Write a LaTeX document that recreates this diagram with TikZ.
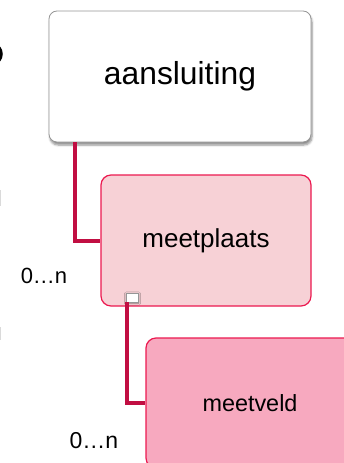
\documentclass[tikz,border=0pt]{standalone}
\usepackage{fontspec}
\setmainfont{Liberation Sans}
\usetikzlibrary{shadows.blur}
\definecolor{connred}{RGB}{193,14,66}
\definecolor{pinkedge}{RGB}{235,25,80}
\definecolor{pinklight}{RGB}{247,209,214}
\definecolor{pinkmid}{RGB}{247,169,191}
\definecolor{greyedge}{RGB}{150,150,150}
\tikzset{
  topbox/.style={draw=greyedge, line width=0.8pt, fill=white, rounded corners=8pt,
    minimum width=262pt, minimum height=131pt, inner sep=0pt,
    blur shadow={shadow xshift=1pt, shadow yshift=-3pt, shadow blur steps=6, shadow opacity=45},
    font=\fontsize{31.8}{36}\selectfont},
  pinkbox/.style={draw=pinkedge, line width=1.2pt, rounded corners=10pt,
    minimum width=210pt, minimum height=131pt, inner sep=0pt},
  conn/.style={draw=connred, line width=4pt},
  card/.style={font=\fontsize{23}{26}\selectfont, inner sep=0pt},
  handle/.style={draw=greyedge, line width=0.6pt, fill=white, minimum width=12pt, minimum height=9pt, inner sep=0pt,
    blur shadow={shadow xshift=0.5pt, shadow yshift=-1pt, shadow blur steps=3, shadow opacity=40}}
}
\begin{document}
\begin{tikzpicture}[x=1pt,y=-1pt]
\useasboundingbox (0,0) rectangle (343,463);
% partial fragments at the left edge
\draw[black, line width=2.5pt] (-6,54) ellipse [x radius=7.5, y radius=9];
\draw[greyedge!35, line width=1pt] (0.5,190) -- (0.5,206);
\draw[greyedge!35, line width=1pt] (0.5,327) -- (0.5,340);
% boxes
\node[topbox] (b1) at (180,76.5) {aansluiting};
\node[pinkbox, fill=pinklight, font=\fontsize{26}{30}\selectfont] (b2) at (206,240.5) {meetplaats};
\node[pinkbox, fill=pinkmid, minimum width=208pt, minimum height=130pt, font=\fontsize{23.4}{27}\selectfont] (b3) at (250,403) {meetveld};
\node[handle] (sq) at (132,297.5) {};
% connectors
\coordinate (k1) at (75,0);
\coordinate (k2) at (126.5,0);
\draw[conn] (b1.south -| k1) |- (b2.west);
\draw[conn] (sq.south -| k2) |- (b3.west);
% cardinalities
\node[card, font=\fontsize{22}{26}\selectfont] (m1) at (44,276) {0…n};
\node[card] (m2) at (94,441) {0…n};
\end{tikzpicture}
\end{document}
